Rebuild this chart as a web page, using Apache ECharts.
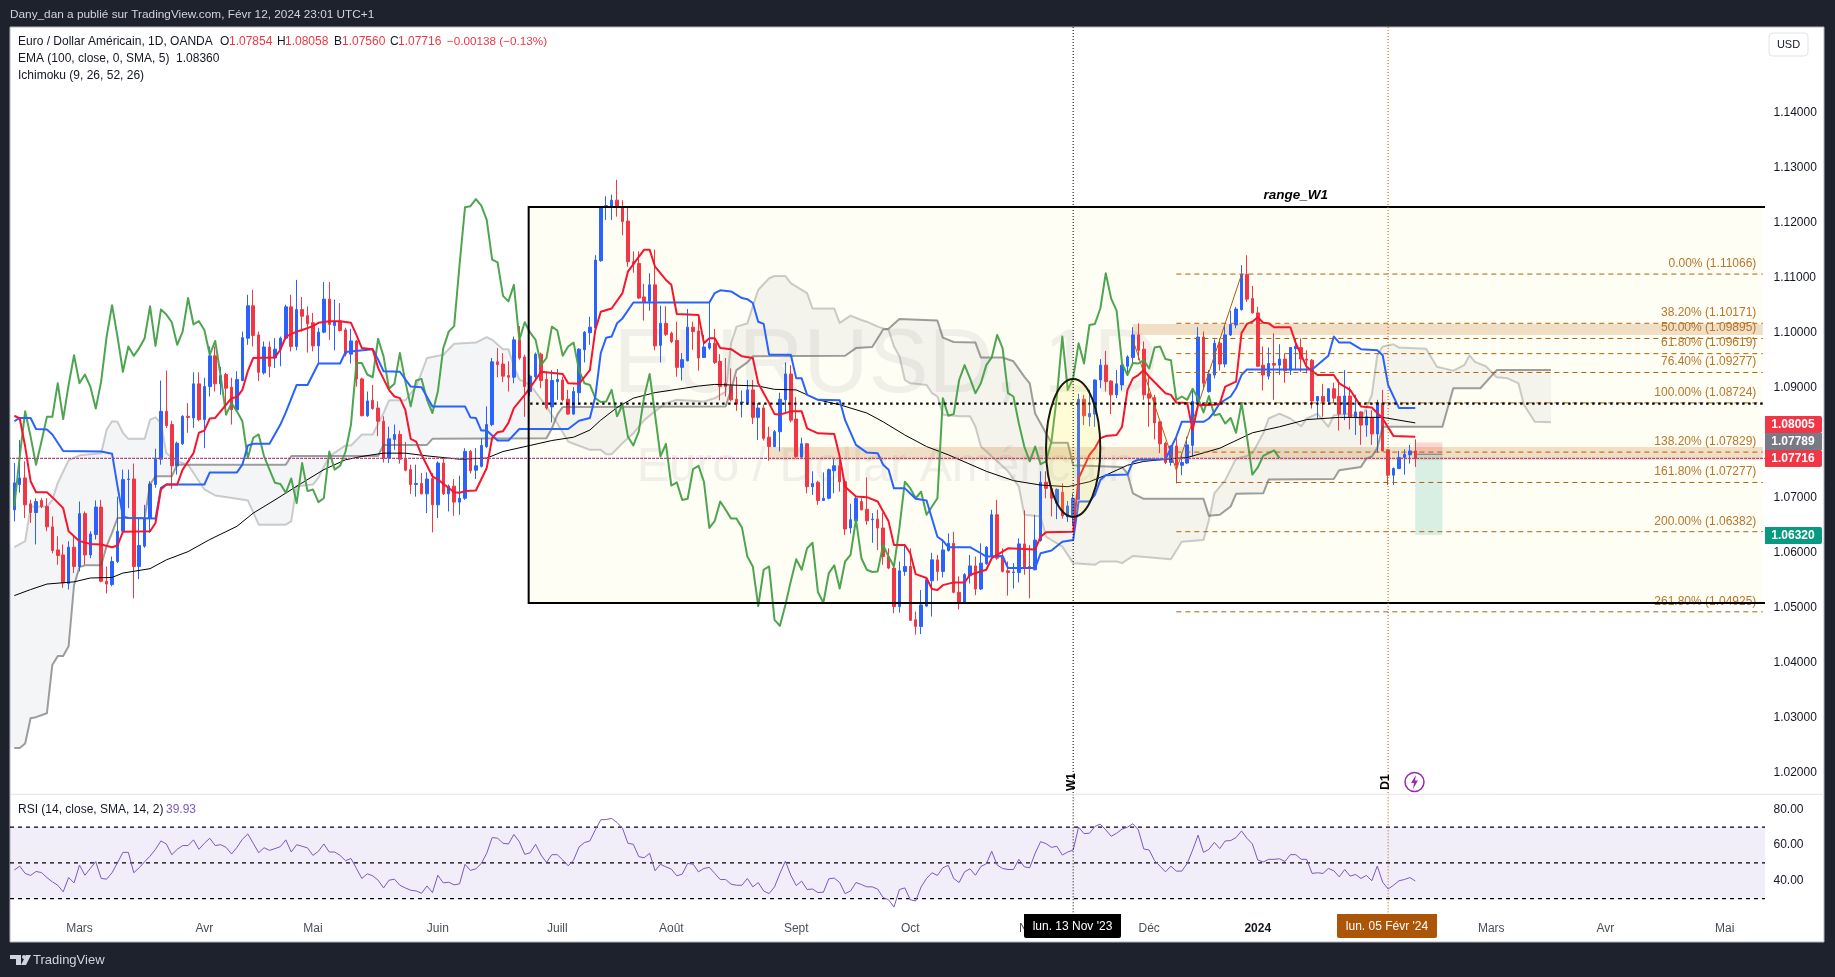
<!DOCTYPE html>
<html><head><meta charset="utf-8">
<style>html,body{margin:0;padding:0;background:#1e222d}#c{width:1835px;height:977px}</style>
<script src="https://cdn.jsdelivr.net/npm/echarts@6/dist/echarts.min.js"></script></head>
<body><div id="c"></div>
<script>
// ---- values (prices in 1/10000 units) ----
const ohlc=[[10678,10727,10657,10763],[10724,10736,10709,10805],[10736,10687,10663,10766],[10689,10673,10654,10696],[10673,10693,10615,10699],[10695,10684,10681,10699],[10684,10647,10639,10699],[10647,10604,10599,10666],[10605,10595,10578,10630],[10596,10545,10536,10615],
[10544,10610,10533,10621],[10610,10575,10563,10630],[10575,10671,10566,10693],[10671,10596,10578,10675],[10596,10634,10590,10639],[10633,10683,10624,10695],[10683,10548,10546,10696],[10548,10543,10526,10575],[10542,10584,10539,10593],[10584,10639,10581,10702],
[10639,10733,10636,10751],[10733,10734,10681,10751],[10734,10575,10517,10762],[10575,10613,10552,10663],[10612,10663,10609,10687],[10663,10725,10636,10730],[10724,10770,10718,10789],[10770,10857,10760,10913],[10857,10831,10827,10931],[10833,10758,10716,10840],
[10758,10799,10742,10802],[10798,10848,10796,10850],[10848,10846,10818,10872],[10845,10907,10827,10928],[10907,10842,10839,10928],[10842,10902,10790,10918],[10902,10958,10884,10975],[10958,10907,10893,10975],[10907,10922,10887,10938],[10924,10899,10851,10927],
[10901,10860,10833,10918],[10860,10915,10857,10930],[10913,10991,10912,11002],[10990,11049,10978,11069],[11049,10995,10975,11078],[10996,10928,10912,11002],[10927,10974,10924,10984],[10974,10939,10919,10984],[10954,10970,10936,10990],[10970,10990,10939,10993],
[10990,11047,10987,11051],[11047,10975,10966,11069],[10975,11042,10968,11096],[11042,11030,11002,11065],[11031,11016,10964,11048],[11018,10976,10966,11036],[10976,11001,10944,11009],[11001,11061,10999,11092],[11061,11015,10987,11092],[11013,11021,10968,11060],
[11021,11004,11002,11054],[11005,10961,10957,11009],[10961,10985,10944,11007],[10985,10916,10902,10987],[10916,10849,10848,10918],[10849,10876,10847,10893],[10877,10862,10860,10905],[10863,10839,10812,10875],[10839,10772,10764,10848],[10772,10807,10763,10829],
[10806,10815,10787,10833],[10815,10770,10762,10822],[10770,10750,10748,10801],[10751,10724,10707,10760],[10724,10726,10702,10760],[10726,10707,10706,10745],[10707,10734,10672,10746],[10735,10687,10637,10745],[10687,10763,10663,10766],[10763,10707,10705,10772],
[10707,10721,10675,10724],[10721,10692,10667,10734],[10692,10699,10669,10740],[10699,10784,10696,10790],[10784,10749,10744,10787],[10750,10758,10734,10790],[10757,10795,10755,10808],[10793,10833,10790,10866],[10833,10947,10830,10954],[10947,10942,10919,10972],
[10943,10921,10910,10963],[10922,10919,10893,10948],[10919,10987,10908,10993],[10987,10954,10951,11012],[10956,10902,10847,10960],[10893,10921,10885,10924],[10920,10961,10915,10964],[10961,10913,10899,10964],[10915,10863,10860,10929],[10865,10913,10837,10932],
[10911,10915,10878,10934],[10914,10878,10875,10920],[10879,10852,10851,10896],[10852,10893,10851,10901],[10891,10970,10869,10972],[10969,11001,10946,11003],[11000,11010,10978,11029],[11009,11132,11008,11141],[11131,11228,11129,11229],[11228,11231,11205,11248],
[11228,11241,11205,11251],[11241,11228,11211,11278],[11229,11202,11177,11241],[11203,11129,11120,11229],[11129,11125,11109,11148],[11126,11063,11061,11148],[11065,11055,11022,11089],[11057,11087,11040,11108],[11087,10976,10968,11151],[10977,11017,10946,11049],
[11017,10997,10994,11048],[10999,10984,10981,11002],[10986,10937,10920,11020],[10937,10951,10913,10963],[10949,11010,10948,11043],[11010,11002,10969,11020],[11003,10954,10931,11032],[10955,10974,10954,10996],[10972,10981,10969,11055],[10981,10946,10943,11007],
[10948,10902,10877,10961],[10908,10902,10884,10954],[10903,10878,10875,10935],[10879,10870,10858,10920],[10873,10874,10846,10895],[10873,10896,10869,10914],[10896,10846,10834,10914],[10846,10863,10805,10872],[10863,10808,10804,10869],[10810,10793,10767,10829],
[10793,10820,10792,10823],[10820,10879,10784,10891],[10878,10925,10852,10946],[10925,10841,10837,10941],[10843,10775,10772,10883],[10774,10798,10772,10809],[10798,10720,10708,10799],[10720,10726,10705,10748],[10728,10695,10687,10731],[10695,10699,10695,10746],
[10699,10751,10697,10753],[10749,10758,10708,10770],[10758,10729,10711,10769],[10729,10643,10632,10732],[10645,10660,10635,10689],[10658,10699,10654,10702],[10693,10678,10677,10699],[10679,10658,10651,10737],[10660,10661,10618,10672],[10661,10645,10605,10678],
[10645,10593,10578,10673],[10593,10572,10570,10608],[10572,10502,10490,10581],[10502,10567,10491,10584],[10566,10575,10558,10616],[10575,10477,10477,10608],[10478,10466,10451,10493],[10466,10505,10452,10532],[10503,10551,10501,10552],[10549,10587,10484,10600],
[10587,10566,10549,10596],[10566,10605,10555,10623],[10604,10617,10602,10635],[10617,10528,10526,10638],[10528,10508,10497,10557],[10508,10560,10507,10563],[10558,10576,10544,10596],[10576,10534,10523,10593],[10534,10581,10532,10617],[10580,10610,10578,10612],
[10593,10669,10592,10678],[10669,10590,10587,10696],[10593,10566,10564,10608],[10567,10564,10522,10584],[10564,10565,10535,10581],[10564,10616,10546,10626],[10616,10572,10560,10677],[10575,10571,10517,10614],[10569,10623,10568,10669],[10622,10728,10620,10748],
[10728,10717,10699,10748],[10717,10699,10666,10723],[10690,10715,10661,10717],[10710,10667,10662,10726],[10665,10685,10656,10694],[10665,10699,10649,10708],[10697,10879,10696,10889],[10879,10849,10832,10887],[10847,10853,10830,10896],[10852,10914,10829,10915],
[10914,10941,10899,10952],[10941,10911,10893,10967],[10912,10887,10852,10914],[10887,10907,10881,10932],[10905,10941,10895,10942],[10939,10956,10923,10959],[10955,10996,10941,11010],[10996,10968,10950,11017],[10970,10887,10878,10984],[10889,10881,10829,10920],
[10882,10836,10806,10887],[10838,10798,10781,10838],[10799,10764,10761,10802],[10764,10794,10758,10795],[10794,10759,10726,10811],[10759,10764,10741,10781],[10763,10796,10761,10811],[10795,10875,10775,10896],[10875,10992,10869,11010],[10992,10908,10896,11002],
[10893,10925,10891,10932],[10923,10981,10917,10988],[10981,10943,10931,10990],[10943,10996,10937,11014],[10996,11015,10994,11040],[11014,11043,11008,11047],[11042,11106,11040,11123],[11106,11061,11056,11141],[11062,11036,11035,11085],[11036,10939,10938,11047],
[10941,10923,10895,10975],[10921,10944,10915,10973],[10944,10941,10878,10999],[10941,10952,10923,10979],[10952,10931,10909,10962],[10932,10973,10923,10974],[10971,10975,10932,10990],[10973,10952,10929,10990],[10952,10950,10926,10968],[10950,10876,10862,10952],
[10876,10884,10844,10885],[10884,10875,10847,10907],[10875,10898,10869,10899],[10898,10881,10872,10909],[10884,10852,10822,10915],[10852,10885,10841,10932],[10885,10847,10824,10902],[10847,10856,10814,10887],[10856,10832,10796,10857],[10832,10847,10811,10859],
[10846,10816,10796,10859],[10816,10873,10782,10878],[10872,10785,10784,10896],[10787,10741,10723,10788],[10741,10753,10723,10755],[10753,10773,10752,10785],[10773,10779,10742,10788],[10778,10785,10762,10796],[10785,10772,10756,10806]];

const tenkan=[[0,10849],[1,10844],[2,10793],[3,10730],[4,10710],[6,10710],[7,10701],[9,10681],[10,10639],[12,10621],[14,10616],[16,10615],[18,10610],[19,10613],[20,10638],[25,10639],[26,10654],[27,10715],[28,10724],[30,10724],[31,10751],[33,10781],[34,10818],[35,10822],[36,10844],[37,10845],[39,10869],[40,10881],[41,10883],[42,10896],[43,10930],[44,10954],[48,10955],[49,10969],[50,10993],[52,11002],[53,11005],[55,11012],[56,11018],[58,11021],[60,11021],[62,11018],[63,10996],[64,10972],[66,10970],[67,10936],[69,10896],[70,10884],[71,10881],[72,10860],[73,10807],[74,10802],[75,10778],[77,10739],[78,10733],[81,10710],[82,10709],[83,10712],[85,10713],[87,10754],[88,10809],[89,10819],[90,10821],[91,10836],[92,10863],[94,10887],[95,10900],[97,10929],[101,10925],[102,10908],[104,10907],[106,10932],[107,11005],[108,11038],[110,11044],[112,11072],[113,11111],[115,11138],[116,11151],[117,11151],[118,11120],[120,11096],[121,11087],[122,11034],[126,11032],[127,10981],[128,10990],[129,10990],[130,10972],[132,10970],[134,10957],[136,10954],[137,10908],[139,10872],[140,10852],[141,10851],[143,10857],[145,10857],[146,10826],[148,10817],[151,10816],[152,10775],[153,10720],[155,10702],[157,10701],[159,10693],[161,10657],[162,10614],[164,10614],[165,10599],[166,10561],[168,10554],[169,10534],[170,10532],[171,10541],[173,10546],[175,10546],[176,10560],[179,10569],[180,10590],[183,10608],[188,10606],[189,10629],[190,10637],[195,10638],[196,10735],[198,10778],[199,10790],[200,10808],[201,10812],[203,10814],[204,10829],[205,10896],[206,10917],[207,10923],[208,10932],[209,10920],[212,10890],[213,10887],[214,10873],[216,10872],[217,10823],[218,10868],[221,10869],[222,10871],[223,10902],[225,10911],[226,10999],[227,11016],[228,11020],[229,11028],[230,11018],[231,11017],[232,11010],[235,11010],[236,10981],[238,10938],[240,10923],[243,10923],[244,10908],[246,10896],[248,10866],[250,10864],[252,10844],[254,10812],[258,10811]];

const kijun=[[0,10839],[1,10845],[3,10845],[4,10825],[6,10824],[7,10815],[9,10785],[16,10784],[18,10780],[19,10721],[20,10666],[21,10663],[26,10662],[27,10718],[28,10724],[35,10724],[36,10746],[41,10746],[42,10760],[43,10795],[44,10798],[47,10798],[49,10833],[50,10855],[52,10905],[54,10905],[56,10944],[60,10944],[61,10965],[66,10970],[67,10951],[68,10930],[71,10929],[73,10902],[75,10901],[77,10866],[83,10866],[84,10846],[85,10845],[86,10822],[87,10822],[89,10804],[91,10804],[93,10825],[102,10825],[104,10840],[106,10845],[107,10884],[108,10963],[109,10991],[110,10993],[111,11017],[112,11026],[114,11055],[128,11055],[129,11072],[130,11077],[132,11075],[134,11063],[135,11061],[136,11054],[137,11020],[138,11016],[139,10960],[143,10960],[144,10917],[145,10917],[146,10887],[148,10878],[152,10877],[153,10841],[155,10796],[157,10782],[159,10781],[160,10760],[161,10751],[162,10717],[164,10717],[166,10698],[168,10695],[170,10629],[171,10622],[172,10610],[176,10610],[178,10599],[179,10593],[182,10594],[183,10572],[188,10572],[189,10599],[191,10604],[193,10620],[195,10623],[196,10693],[198,10693],[199,10705],[200,10732],[201,10741],[205,10742],[206,10765],[207,10769],[212,10770],[214,10811],[215,10838],[219,10838],[220,10844],[221,10856],[222,10872],[224,10884],[225,10899],[226,10923],[227,10933],[239,10933],[242,10958],[243,10993],[244,10982],[246,10982],[248,10970],[251,10968],[252,10959],[253,10905],[255,10863],[258,10863]];

const chikou=[10684,10775,10857,10811,10760,10802,10847,10847,10908,10843,10905,10959,10908,10924,10902,10862,10912,10993,11050,10993,10929,10975,10958,10972,10990,11048,10976,11042,11033,11019,10978,11002,11063,11015,11021,11005,10960,10985,10921,10851,10872,10857,10839,10772,10809,10815,10775,10751,10727,10725,10709,10735,10690,10763,10712,10715,10692,10699,10784,10751,10758,10784,10833,10945,10945,10924,10919,10989,10957,10898,10907,10963,10912,10866,10913,10916,10878,10854,10893,10972,11002,11012,11124,11228,11230,11243,11231,11205,11133,11128,11067,11057,11087,10987,11019,11000,
10987,10941,10954,11011,11004,10958,10975,10982,10932,10908,10905,10881,10874,10875,10896,10848,10869,10811,10795,10820,10884,10925,10851,10775,10798,10722,10728,10696,10698,10752,10758,10729,10645,10658,10693,10678,10662,10662,10646,10593,10575,10503,10569,10575,10478,10467,10505,10548,10588,10569,10608,10618,10528,10509,10563,10577,10535,10584,10596,10660,10590,10569,10565,10566,10614,10593,10575,10645,10729,10717,10699,10711,10669,10684,10699,10881,10849,10852,10914,10941,10917,10890,10908,10941,10955,10996,10972,10890,10884,10835,10793,10766,10793,10761,10766,10802,
10884,10993,10896,10917,10981,10944,11014,11016,11044,11108,11062,11040,10944,10923,10945,10944,10950,10935,10973,10975,10952,10950,10878,10884,10878,10898,10881,10855,10885,10850,10852,10835,10845,10818,10872,10811,10742,10755,10776,10781,10786,10772];

const spanA=[[0,10610],[2,10621],[3,10684],[6,10684],[7,10696],[8,10727],[10,10768],[12,10777],[16,10781],[17,10824],[18,10839],[19,10838],[20,10818],[21,10807],[24,10807],[25,10842],[26,10846],[27,10836],[28,10781],[30,10766],[32,10760],[33,10745],[35,10715],[37,10704],[41,10698],[43,10695],[45,10651],[50,10651],[51,10657],[52,10721],[55,10724],[56,10736],[58,10775],[61,10795],[62,10795],[64,10815],[66,10815],[68,10854],[69,10877],[72,10877],[74,10902],[76,10954],[79,10960],[81,10980],[85,10982],[87,10992],[88,10987],[90,10970],[91,10970],[92,10939],[93,10915],[95,10905],[98,10866],[100,10835],[102,10802],[103,10798],[106,10787],[108,10787],[109,10779],[110,10779],[112,10799],[114,10817],[116,10841],[118,10857],[120,10872],[122,10878],[127,10875],[129,10881],[131,10893],[132,10981],[133,11011],[135,11017],[136,11048],[137,11078],[139,11099],[140,11103],[142,11103],[143,11090],[146,11072],[147,11044],[151,11044],[152,11018],[154,11031],[156,11023],[157,11020],[159,11011],[161,11005],[162,10975],[163,10957],[164,10914],[165,10908],[168,10905],[169,10890],[170,10884],[171,10851],[174,10848],[176,10848],[177,10829],[178,10793],[183,10748],[185,10720],[186,10669],[189,10666],[190,10629],[193,10611],[195,10581],[199,10578],[200,10584],[203,10584],[204,10581],[206,10594],[213,10588],[215,10620],[219,10623],[220,10659],[221,10708],[223,10732],[225,10771],[227,10776],[228,10781],[230,10817],[231,10844],[233,10853],[235,10844],[237,10830],[238,10844],[240,10853],[242,10829],[243,10850],[246,10853],[248,10842],[250,10887],[251,10959],[252,10975],[254,10979],[255,10973],[260,10971],[262,10938],[265,10931],[267,10941],[268,10959],[269,10947],[271,10939],[273,10919],[275,10917],[277,10908],[278,10869],[280,10838],[283,10837]];

const spanB=[[0,10245],[1,10245],[2,10253],[3,10299],[4,10301],[6,10308],[7,10396],[8,10412],[9,10412],[10,10430],[11,10541],[12,10574],[13,10577],[16,10577],[17,10612],[18,10636],[19,10663],[24,10663],[25,10724],[26,10739],[29,10739],[30,10760],[50,10760],[51,10776],[67,10776],[68,10796],[76,10796],[77,10807],[98,10808],[99,10826],[100,10851],[101,10865],[131,10866],[132,10896],[133,10932],[135,10946],[136,10957],[153,10958],[155,10972],[158,10974],[160,11006],[161,11007],[163,11025],[170,11022],[171,10991],[173,10983],[177,10982],[178,10955],[182,10955],[184,10948],[186,10920],[187,10908],[188,10853],[190,10817],[191,10800],[194,10800],[195,10759],[204,10756],[205,10744],[206,10708],[208,10698],[219,10698],[220,10667],[222,10669],[224,10684],[225,10707],[230,10708],[231,10733],[243,10734],[244,10750],[248,10756],[249,10771],[250,10775],[251,10790],[252,10829],[263,10829],[265,10899],[270,10899],[273,10932],[283,10932]];

const ema=[[0,10522],[3,10533],[6,10543],[11,10547],[14,10554],[18,10555],[20,10563],[25,10571],[28,10587],[32,10602],[36,10624],[41,10648],[44,10672],[48,10696],[53,10727],[57,10751],[61,10769],[64,10775],[68,10781],[72,10781],[76,10776],[82,10770],[87,10772],[90,10784],[95,10795],[99,10804],[103,10810],[106,10823],[108,10841],[111,10864],[114,10881],[118,10891],[122,10897],[126,10903],[129,10906],[137,10903],[140,10897],[144,10896],[148,10878],[152,10869],[157,10854],[160,10838],[164,10814],[168,10793],[172,10778],[179,10748],[184,10731],[189,10723],[194,10720],[198,10729],[201,10741],[205,10759],[208,10766],[212,10770],[216,10773],[222,10790],[228,10818],[233,10829],[238,10842],[244,10846],[252,10846],[258,10836]];

const rsi=[46.0,48.2,44.1,43.0,45.2,44.6,41.8,39.4,37.5,33.8,41.8,38.8,48.8,43.1,46.9,50.7,41.3,40.9,44.5,50.1,55.9,55.9,44.5,47.3,50.7,53.8,57.6,62.3,60.6,54.6,57.6,59.7,59.7,62.9,57.6,61.0,63.8,59.7,60.2,58.7,55.0,58.7,63.2,66.2,61.0,55.7,58.5,57.0,58.0,59.1,62.9,56.1,60.2,59.3,58.4,54.2,56.5,60.6,56.1,56.1,54.2,51.2,52.5,46.9,41.3,43.9,42.8,40.3,36.0,40.3,40.9,37.5,36.0,34.7,34.3,33.0,37.1,33.4,43.1,38.8,39.2,37.7,38.3,49.2,45.8,46.7,49.7,55.4,64.2,63.8,61.0,60.6,65.9,61.9,54.8,55.7,60.4,54.4,50.3,54.6,54.6,51.6,48.4,51.6,58.9,61.4,62.3,68.5,74.1,74.3,74.9,72.6,69.4,61.0,60.4,53.5,52.9,55.4,45.6,49.2,47.8,46.5,42.8,43.7,49.7,49.3,45.0,46.9,47.5,44.1,40.7,40.7,38.1,37.5,37.5,41.3,36.6,39.0,34.3,32.8,36.6,44.1,51.0,43.1,37.3,39.8,35.1,35.4,33.4,33.6,41.1,41.5,39.0,32.8,34.3,39.0,37.9,36.6,36.6,35.3,30.6,29.4,25.3,35.1,36.0,29.4,28.7,36.6,41.3,44.5,43.0,47.3,48.6,41.3,39.0,45.0,46.7,43.1,48.0,49.5,56.5,48.8,46.9,46.3,46.3,52.0,47.8,47.3,55.4,61.9,60.8,58.7,59.3,54.4,56.1,57.2,70.0,66.4,66.6,70.4,71.7,68.5,64.9,66.6,68.9,70.0,71.9,68.5,57.8,57.2,51.2,48.2,45.0,48.2,45.4,45.4,49.7,57.2,65.5,55.9,57.6,61.5,58.0,62.3,62.5,64.2,67.9,63.8,60.6,51.6,50.5,52.0,52.0,52.3,50.8,54.6,54.6,52.0,52.0,44.1,44.5,44.1,46.9,45.6,42.2,46.3,42.6,43.5,41.3,43.0,40.0,48.2,39.2,35.4,37.5,40.0,40.7,41.8,39.93];

const fibPrices=[1.11066,1.10171,1.09895,1.09619,1.09277,1.08724,1.07829,1.07277,1.06382,1.04925];
const fibLabels=['0.00% (1.11066)','38.20% (1.10171)','50.00% (1.09895)','61.80% (1.09619)','76.40% (1.09277)','100.00% (1.08724)','138.20% (1.07829)','161.80% (1.07277)','200.00% (1.06382)','261.80% (1.04925)'];
const priceTicks=[1.02,1.03,1.04,1.05,1.06,1.07,1.08,1.09,1.10,1.11,1.12,1.13,1.14];
const rsiTicks=[40,60,80];
const rsiLevels=[70,50,30];
const tickDates=['2023-03-01','2023-04-03','2023-05-01','2023-06-01','2023-07-03','2023-08-01','2023-09-01','2023-10-02','2023-11-01','2023-12-01','2024-01-02','2024-02-01','2024-03-01','2024-04-01','2024-05-01'];
const tickNames=['Mars','Avr','Mai','Juin','Juill','Août','Sept','Oct','Nov','Déc','2024','Févr','Mars','Avr','Mai'];
const holidays=['2023-12-25','2024-01-01'];
const zigzag=[[206,10987],[214,10750],[226,11106]];
const rangeBox=[95,322,1.12285,1.05086];
const zones=[[206,322,1.1016,1.0996],[139,322,1.0792,1.0768]];
const ellipseBox=[190,200,1.0916,1.0665];
const lastClose=1.07716, hLevel=1.08710;
const stopPrice=1.08005, entryPrice=1.07789, targetPrice=1.0632;
const positionBars=[258,263];
const marks=[[195,'#000000'],[253,'#b45f06']];

// ---- categories: weekdays ----
const categories=[];
for(let d=new Date(Date.UTC(2023,1,13));categories.length<323;d=new Date(d.getTime()+864e5)){
  const s=d.toISOString().slice(0,10),w=d.getUTCDay();
  if(w===0||w===6||holidays.includes(s))continue;
  categories.push(s);
}
const P=v=>v/1e4;
const pair=a=>a.map(r=>[r[0],P(r[1])]);
const FONT='"Liberation Sans",sans-serif';
const TXT='#131722',ORANGE='#b45f06';

const annot=(z,items,draw,g=0,clip=true)=>({type:'custom',xAxisIndex:g,yAxisIndex:g,z,silent:true,clip,
  data:items.map((_,k)=>[k,0]),renderItem:(p,api)=>draw(items[p.dataIndex],api,p)});
const rectOf=(api,i0,i1,p0,p1)=>{const a=api.coord([i0,p0]),b=api.coord([i1,p1]);return {x:a[0],y:a[1],width:b[0]-a[0],height:b[1]-a[1]};};
const hline=(p,api,i0,i1,style)=>{const a=api.coord([i0,p]),b=api.coord([i1,p]);return {type:'line',shape:{x1:a[0],y1:a[1],x2:b[0],y2:b[1]},style};};
const lineS=(data,color,width,z)=>({type:'line',data,xAxisIndex:0,yAxisIndex:0,showSymbol:false,symbol:'none',silent:true,z,lineStyle:{color,width,join:'round'},clip:true});

const option={
  animation:false,backgroundColor:'transparent',textStyle:{fontFamily:FONT},
  grid:[{left:11.6,top:27,width:1753.9,height:767.3,containLabel:false},{left:11.6,top:794.3,width:1753.9,height:119.7}],
  xAxis:[
   {type:'category',gridIndex:0,data:categories,axisLine:{show:false},axisTick:{show:false},axisLabel:{show:false},splitLine:{show:false}},
   {type:'category',gridIndex:1,data:categories,axisLine:{show:false},axisTick:{show:false},splitLine:{show:false},
    axisLabel:{show:true,margin:9,fontSize:12,fontFamily:FONT,color:'#4a4e59',hideOverlap:false,
      interval:(idx,v)=>tickDates.includes(v),
      formatter:v=>{const n=tickNames[tickDates.indexOf(v)];return n==='2024'?'{b|2024}':n;},
      rich:{b:{fontSize:12,fontWeight:'bold',color:TXT,fontFamily:FONT}}}}
  ],
  yAxis:[
   {type:'value',gridIndex:0,position:'right',min:1.016073,max:1.155582,axisLine:{show:false},axisTick:{show:false},splitLine:{show:false},
    axisLabel:{customValues:priceTicks,margin:8,fontSize:12,fontFamily:FONT,color:TXT,formatter:v=>v.toFixed(5)}},
   {type:'value',gridIndex:1,position:'right',min:21.4,max:88.4,axisLine:{show:false},axisTick:{show:false},splitLine:{show:false},
    axisLabel:{customValues:rsiTicks,margin:8,fontSize:12,fontFamily:FONT,color:TXT,formatter:v=>v.toFixed(2)}}
  ],
  graphic:{elements:[
    {type:'rect',z:-10,silent:true,shape:{x:10,y:27,width:1814,height:915},style:{fill:'#ffffff',stroke:'#b2b5be',lineWidth:1}},
    {type:'text',z:0,silent:true,x:886,y:367,style:{text:'EURUSD, 1D',fill:'rgba(42,46,57,0.07)',font:'90px '+FONT,align:'center',verticalAlign:'middle'}},
    {type:'text',z:0,silent:true,x:886,y:468,style:{text:'Euro / Dollar Américain',fill:'rgba(42,46,57,0.07)',font:'48.5px '+FONT,align:'center',verticalAlign:'middle'}},
    {type:'text',z:100,x:10,y:15,style:{text:'Dany_dan a publié sur TradingView.com, Févr 12, 2024 23:01 UTC+1',fill:'#d1d4dc',font:'11.8px '+FONT,verticalAlign:'middle'}},
    {type:'text',z:100,x:18,y:42,style:{text:'Euro / Dollar Américain, 1D, OANDA',fill:TXT,font:'12px '+FONT,verticalAlign:'middle'}},
    {type:'text',z:100,x:220,y:42,style:{text:'O',fill:TXT,font:'12px '+FONT,verticalAlign:'middle'}},
    {type:'text',z:100,x:229,y:42,style:{text:'1.07854',fill:'#f23645',font:'12px '+FONT,verticalAlign:'middle'}},
    {type:'text',z:100,x:277,y:42,style:{text:'H',fill:TXT,font:'12px '+FONT,verticalAlign:'middle'}},
    {type:'text',z:100,x:285,y:42,style:{text:'1.08058',fill:'#f23645',font:'12px '+FONT,verticalAlign:'middle'}},
    {type:'text',z:100,x:334,y:42,style:{text:'B',fill:TXT,font:'12px '+FONT,verticalAlign:'middle'}},
    {type:'text',z:100,x:342,y:42,style:{text:'1.07560',fill:'#f23645',font:'12px '+FONT,verticalAlign:'middle'}},
    {type:'text',z:100,x:390,y:42,style:{text:'C',fill:TXT,font:'12px '+FONT,verticalAlign:'middle'}},
    {type:'text',z:100,x:398,y:42,style:{text:'1.07716',fill:'#f23645',font:'12px '+FONT,verticalAlign:'middle'}},
    {type:'text',z:100,x:447,y:42,style:{text:'−0.00138 (−0.13%)',fill:'#f23645',font:'11.7px '+FONT,verticalAlign:'middle'}},
    {type:'text',z:100,x:18,y:59,style:{text:'EMA (100, close, 0, SMA, 5)  1.08360',fill:TXT,font:'12px '+FONT,verticalAlign:'middle'}},
    {type:'text',z:100,x:18,y:76,style:{text:'Ichimoku (9, 26, 52, 26)',fill:TXT,font:'12px '+FONT,verticalAlign:'middle'}},
    {type:'text',z:100,x:18,y:810,style:{text:'RSI (14, close, SMA, 14, 2)',fill:TXT,font:'12px '+FONT,verticalAlign:'middle'}},
    {type:'text',z:100,x:166,y:810,style:{text:'39.93',fill:'#7e57c2',font:'12px '+FONT,verticalAlign:'middle'}},
    {type:'rect',z:100,shape:{x:1769,y:33,width:39,height:23,r:4},style:{fill:'#fff',stroke:'#e0e3eb',lineWidth:1}},
    {type:'text',z:101,x:1788.5,y:44.5,style:{text:'USD',fill:TXT,font:'11px '+FONT,align:'center',verticalAlign:'middle'}},
    {type:'rect',z:100,shape:{x:1765,y:416,width:57,height:17,r:[0,2,2,0]},style:{fill:'#f23645'}},
    {type:'text',z:101,x:1793,y:424.5,style:{text:'1.08005',fill:'#fff',font:'bold 12px '+FONT,align:'center',verticalAlign:'middle'}},
    {type:'rect',z:100,shape:{x:1765,y:433,width:57,height:17},style:{fill:'#787b86'}},
    {type:'text',z:101,x:1793,y:441.5,style:{text:'1.07789',fill:'#fff',font:'bold 12px '+FONT,align:'center',verticalAlign:'middle'}},
    {type:'rect',z:100,shape:{x:1765,y:450,width:57,height:17,r:[0,2,2,0]},style:{fill:'#f23645'}},
    {type:'text',z:101,x:1793,y:458.5,style:{text:'1.07716',fill:'#fff',font:'bold 12px '+FONT,align:'center',verticalAlign:'middle'}},
    {type:'rect',z:100,shape:{x:1765,y:527,width:57,height:17,r:[0,2,2,0]},style:{fill:'#089981'}},
    {type:'text',z:101,x:1793,y:535.5,style:{text:'1.06320',fill:'#fff',font:'bold 12px '+FONT,align:'center',verticalAlign:'middle'}},
    {type:'rect',z:100,shape:{x:1024,y:914,width:97,height:24,r:[0,0,2,2]},style:{fill:'#000'}},
    {type:'text',z:101,x:1072.5,y:927,style:{text:"lun. 13 Nov '23",fill:'#fff',font:'12px '+FONT,align:'center',verticalAlign:'middle'}},
    {type:'rect',z:100,shape:{x:1337,y:914,width:100,height:24,r:[0,0,2,2]},style:{fill:'#ab5508'}},
    {type:'text',z:101,x:1387,y:927,style:{text:"lun. 05 Févr '24",fill:'#fff',font:'12px '+FONT,align:'center',verticalAlign:'middle'}},
    {type:'line',z:100,shape:{x1:10,y1:794.3,x2:1824,y2:794.3},style:{stroke:'#e0e3eb',lineWidth:1}},
    {type:'text',z:100,x:1072,y:782,rotation:Math.PI/2,style:{text:'W1',fill:'#000',font:'bold 12px '+FONT,align:'center',verticalAlign:'middle'}},
    {type:'text',z:100,x:1386,y:782,rotation:Math.PI/2,style:{text:'D1',fill:'#000',font:'bold 12px '+FONT,align:'center',verticalAlign:'middle'}},
    {type:'circle',z:100,shape:{cx:1414.5,cy:782,r:9.5},style:{fill:'#fff',stroke:'#9c27b0',lineWidth:1.5}},
    {type:'polygon',z:101,shape:{points:[[1416,775],[1411,783],[1414,783],[1413,789],[1418,780.5],[1415,780.5]]},style:{fill:'#9c27b0'}},
    {type:'polygon',z:100,shape:{points:[[10,955],[21,955],[21,965],[16,965],[16,959],[10,959]]},style:{fill:'#d1d4dc'}},
    {type:'circle',z:100,shape:{cx:24,cy:957,r:2},style:{fill:'#d1d4dc'}},
    {type:'polygon',z:100,shape:{points:[[26,955],[31,955],[26,965],[21,965]]},style:{fill:'#d1d4dc'}},
    {type:'text',z:100,x:33,y:960,style:{text:'TradingView',fill:'#d1d4dc',font:'13px '+FONT,verticalAlign:'middle'}}
  ]},
  series:[
    // range fill, zones
    annot(1,[rangeBox],(b,api)=>{const r=rectOf(api,b[0],b[1],b[2],b[3]);r.x-=1.5;r.width+=1.5;return {type:'rect',shape:r,style:{fill:'rgba(255,236,120,0.07)'}};}),
    annot(1,[{a:pair(spanA),b:pair(spanB)}],(c,api,p)=>{
      const pts=c.a.map(r=>api.coord(r)).concat(c.b.slice().reverse().map(r=>api.coord(r)));
      const L=p.coordSys.x-1.6,a0=api.coord(c.a[0]),b0=api.coord(c.b[0]);
      pts.unshift([L,a0[1]]);pts.push([L,b0[1]]);
      return {type:'polygon',shape:{points:pts},style:{fill:'rgba(120,123,134,0.08)'}};},0,false),
    annot(1,zones,(b,api)=>({type:'rect',shape:rectOf(api,b[0],b[1],b[2],b[3]),style:{fill:'rgba(180,95,6,0.2)'}})),
    annot(1,[[positionBars,stopPrice,entryPrice,'rgba(242,54,69,0.2)'],[positionBars,entryPrice,targetPrice,'rgba(8,153,129,0.15)']],
      (r,api)=>({type:'rect',shape:rectOf(api,r[0][0],r[0][1],r[1],r[2]),style:{fill:r[3]}})),
    {type:'candlestick',xAxisIndex:0,yAxisIndex:0,z:2,silent:true,barWidth:3,clip:true,data:ohlc.map(r=>r.map(P)),
     itemStyle:{color:'#2962ff',color0:'#f23645',borderColor:'#2962ff',borderColor0:'#f23645',borderWidth:1}},
    lineS(pair(spanA),'rgba(110,110,110,0.34)',2,3),
    lineS(pair(spanB),'rgba(80,80,80,0.55)',2,3),
    lineS(pair(ema),'#000000',1,3),
    lineS(pair(zigzag),ORANGE,1,3),
    lineS(chikou.map((v,i)=>[i,P(v)]),'rgba(67,160,71,0.95)',2,4),
    lineS(pair(kijun),'#2962ff',2,4),
    lineS(pair(tenkan),'#f7152e',2,4),
    annot(5,fibPrices,(p,api)=>hline(p,api,214,322,{stroke:ORANGE,lineWidth:1,lineDash:[5,4]})),
    annot(5,fibPrices,(p,api,par)=>{const c=api.coord([321,p]);return {type:'text',x:c[0]-1,y:c[1]-10.5,
       style:{text:fibLabels[par.dataIndex],fill:'#b8752c',font:'12px '+FONT,align:'right',verticalAlign:'middle'}};}),
    annot(5,[entryPrice],(p,api)=>hline(p,api,258,263,{stroke:'#787b86',lineWidth:1})),
    annot(6,[hLevel],(p,api)=>hline(p,api,95,322,{stroke:'#000',lineWidth:2.4,lineDash:[2.4,3.6]})),
    annot(6,[[lastClose,'#2962ff',[1,3],0],[lastClose,'#f23645',[2,2],2]],(r,api)=>{const c=api.coord([0,r[0]]);
       return {type:'line',shape:{x1:10,y1:c[1],x2:1765,y2:c[1]},style:{stroke:r[1],lineWidth:1.2,lineDash:r[2],lineDashOffset:r[3]}};},0,false),
    annot(6,[rangeBox],(b,api)=>{const a=api.coord([b[0],b[2]]),c=api.coord([b[1],b[3]]),L=a[0]-1.5;
       return {type:'polyline',shape:{points:[[1765,a[1]],[L,a[1]],[L,c[1]],[1765,c[1]]]},style:{fill:null,stroke:'#000',lineWidth:2}};},0,false),
    annot(6,[ellipseBox],(b,api)=>{const a=api.coord([b[0],b[2]]),c=api.coord([b[1],b[3]]);
       return {type:'ellipse',shape:{cx:(a[0]+c[0])/2,cy:(a[1]+c[1])/2,rx:(c[0]-a[0])/2,ry:(c[1]-a[1])/2},style:{fill:'rgba(255,235,59,0.16)',stroke:'#1a1a10',lineWidth:2}};}),
    annot(6,[[236,1.12285]],(b,api)=>{const c=api.coord(b);return {type:'text',x:c[0],y:c[1]-12,style:{text:'range_W1',fill:'#000',font:'italic bold 13.5px '+FONT,align:'center',verticalAlign:'middle'}};}),
    annot(6,marks,(m,api,p)=>{const x=api.coord([m[0],1.08])[0];return {type:'line',shape:{x1:x,y1:p.coordSys.y,x2:x,y2:p.coordSys.y+p.coordSys.height},style:{stroke:m[1],lineWidth:1,lineDash:[1,2]}};}),
    // RSI pane
    annot(1,[[70,30]],(b,api)=>{const a=api.coord([0,b[0]]),c=api.coord([0,b[1]]);
       return {type:'rect',shape:{x:10,y:a[1],width:1755,height:c[1]-a[1]},style:{fill:'rgba(126,87,194,0.1)'}};},1,false),
    annot(2,rsiLevels,(v,api)=>{const c=api.coord([0,v]);return {type:'line',shape:{x1:10,y1:c[1],x2:1765,y2:c[1]},style:{stroke:'#000',lineWidth:1.2,lineDash:[4,4]}};},1,false),
    {type:'line',xAxisIndex:1,yAxisIndex:1,z:3,data:rsi,showSymbol:false,symbol:'none',silent:true,lineStyle:{color:'#7e57c2',width:1}},
    annot(4,marks,(m,api,p)=>{const x=api.coord([m[0],50])[0];return {type:'line',shape:{x1:x,y1:p.coordSys.y,x2:x,y2:p.coordSys.y+p.coordSys.height},style:{stroke:m[1],lineWidth:1,lineDash:[1,2]}};},1)
  ]
};
echarts.init(document.getElementById('c'),null,{renderer:'canvas'}).setOption(option);
</script></body></html>
